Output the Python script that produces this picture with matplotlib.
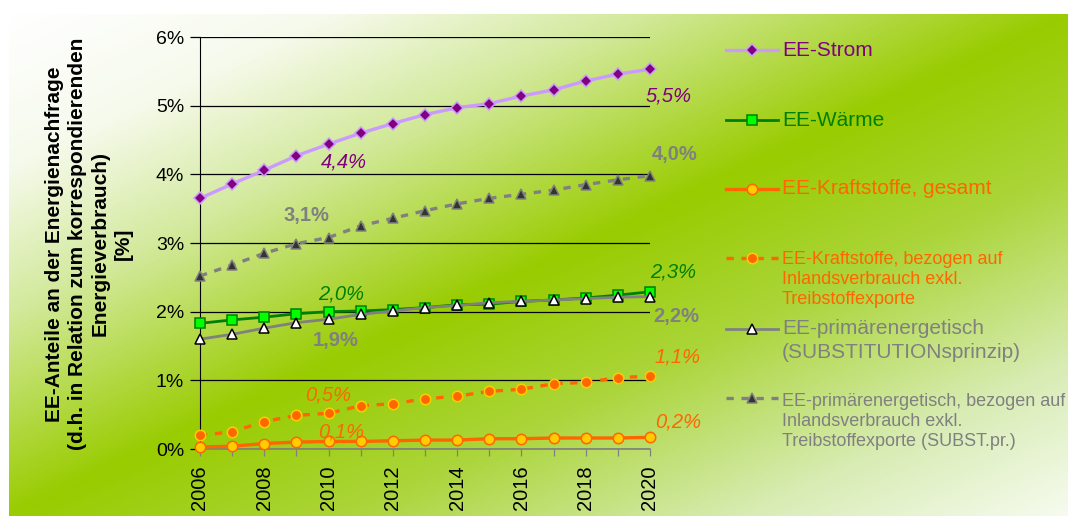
import matplotlib
matplotlib.use("Agg")
import matplotlib.pyplot as plt
import numpy as np
from matplotlib.colors import LinearSegmentedColormap

plt.rcParams["font.family"] = ["Liberation Sans", "DejaVu Sans"]

# ── Data ──────────────────────────────────────────────────────────────────────
years = list(range(2006, 2021))

ee_strom = [3.65, 3.86, 4.06, 4.27, 4.44, 4.60, 4.74, 4.87, 4.97, 5.03,
            5.14, 5.23, 5.36, 5.46, 5.53]
ee_waerme = [1.83, 1.88, 1.92, 1.97, 2.00, 2.01, 2.03, 2.06, 2.10, 2.11,
             2.15, 2.17, 2.20, 2.24, 2.29]
ee_kraft_ges = [0.03, 0.04, 0.08, 0.10, 0.11, 0.11, 0.12, 0.13, 0.13, 0.15,
                0.15, 0.16, 0.16, 0.16, 0.17]
ee_kraft_inl = [0.20, 0.25, 0.40, 0.49, 0.52, 0.63, 0.66, 0.73, 0.77, 0.84,
                0.87, 0.95, 0.97, 1.04, 1.06]
ee_primaer = [1.60, 1.67, 1.76, 1.84, 1.89, 1.96, 2.01, 2.06, 2.09, 2.13,
              2.15, 2.17, 2.19, 2.21, 2.22]
ee_primaer_inl = [2.52, 2.68, 2.85, 2.99, 3.08, 3.25, 3.36, 3.47, 3.57, 3.65,
                  3.71, 3.77, 3.85, 3.92, 3.98]

y_ticks = [0, 1, 2, 3, 4, 5, 6]
x_label_years = list(range(2006, 2021, 2))

labels = [
    "EE-Strom",
    "EE-Wärme",
    "EE-Kraftstoffe, gesamt",
    "EE-Kraftstoffe, bezogen auf\nInlandsverbrauch exkl.\nTreibstoffexporte",
    "EE-primärenergetisch\n(SUBSTITUTIONsprinzip)",
    "EE-primärenergetisch, bezogen auf\nInlandsverbrauch exkl.\nTreibstoffexporte (SUBST.pr.)",
]

# ── Styles ────────────────────────────────────────────────────────────────────
PURPLE = "#800080"
GREEN = "#008000"
ORANGE = "#ff6600"
GREY = "#808080"
DASH = (0, (2.2, 2.3))

series = [
    dict(y=ee_strom, color="#cc99ff", ls="-", lw=2.4, marker="D", ms=6,
         mfc=PURPLE, mec="#cc99ff", tc=PURPLE, z=5),
    dict(y=ee_waerme, color=GREEN, ls="-", lw=2.0, marker="s", ms=6.5,
         mfc="#00ff00", mec=GREEN, tc=GREEN, z=3),
    dict(y=ee_kraft_ges, color=ORANGE, ls="-", lw=2.4, marker="o", ms=7.5,
         mfc="#ffcc00", mec=ORANGE, tc=ORANGE, z=6),
    dict(y=ee_kraft_inl, color=ORANGE, ls=DASH, lw=2.4, marker="o", ms=7.5,
         mfc=ORANGE, mec="#ffcc00", tc=ORANGE, z=5),
    dict(y=ee_primaer, color=GREY, ls="-", lw=2.0, marker="^", ms=7,
         mfc="white", mec="black", tc=GREY, z=4),
    dict(y=ee_primaer_inl, color=GREY, ls=DASH, lw=2.4, marker="^", ms=7.5,
         mfc="#333333", mec=GREY, tc=GREY, z=4),
]

# value labels: (series index, year, offset in points, italic/bold)
value_labels = [
    (0, 2010, (11, -13), "italic"),
    (0, 2020, (13, -19), "italic"),
    (5, 2010, (-16, 16), "bold"),
    (5, 2020, (18, 15), "bold"),
    (1, 2010, (9, 13), "italic"),
    (1, 2020, (17, 14), "italic"),
    (4, 2010, (5, -15), "bold"),
    (4, 2020, (19, -14), "bold"),
    (3, 2010, (0, 13), "italic"),
    (3, 2020, (20, 14), "italic"),
    (2, 2010, (9, 7), "italic"),
    (2, 2020, (20, 11), "italic"),
]

W, H = 1068, 516
fig = plt.figure(figsize=(W / 100, H / 100), dpi=100)
fig.patch.set_facecolor("white")

# ── Gradient background ───────────────────────────────────────────────────────
bg = fig.add_axes([9 / W, 0, 1 - 9 / W, (H - 14) / H], zorder=-10)
cmap = LinearSegmentedColormap.from_list("bg", [
    (0.00, "#ffffff"), (0.15, "#f6faec"), (0.30, "#d2e99a"),
    (0.50, "#99cc00"), (0.66, "#abd53a"), (0.85, "#d8ecb4"),
    (1.00, "#f6fbee"),
])
gx, gy = np.meshgrid(np.linspace(0, 1, 400), np.linspace(0, 1, 200))
bg.imshow((gx + gy) / 2, cmap=cmap, vmin=0, vmax=1, aspect="auto",
          extent=(0, 1, 1, 0), interpolation="bilinear")
bg.set_xlim(0, 1)
bg.set_ylim(1, 0)
bg.axis("off")

# ── Main axes ─────────────────────────────────────────────────────────────────
ax = fig.add_axes([200 / W, (H - 449) / H, 450 / W, 412 / H])
ax.patch.set_alpha(0)

for s in series:
    ax.plot(years, s["y"], color=s["color"], linestyle=s["ls"], linewidth=s["lw"],
            marker=s["marker"], markersize=s["ms"], markerfacecolor=s["mfc"],
            markeredgecolor=s["mec"], markeredgewidth=1.1, zorder=s["z"],
            clip_on=False)

for idx, yr, off, style in value_labels:
    s = series[idx]
    v = s["y"][years.index(yr)]
    txt = f"{v:.1f}".replace(".", ",") + "%"
    ax.annotate(txt, (yr, v), xytext=off, textcoords="offset points",
                ha="center", va="center", fontsize=14.5, color=s["tc"],
                fontstyle="italic" if style == "italic" else "normal",
                fontweight="bold" if style == "bold" else "normal",
                zorder=7, annotation_clip=False)

ax.set_xlim(2006, 2020)
ax.set_ylim(0, 6)
ax.set_yticks(y_ticks)
ax.set_yticklabels([f"{t}%" for t in y_ticks])
ax.set_xticks(years)
ax.set_xticklabels([str(y) if y in x_label_years else "" for y in years],
                   rotation=90)
ax.grid(axis="y", color="black", linewidth=0.9)
ax.set_axisbelow(True)
ax.tick_params(axis="y", direction="out", length=7.5, width=0.9,
               color="black", pad=4, labelsize=14)
ax.tick_params(axis="x", direction="out", length=5, width=0.9,
               color=GREY, pad=7, labelsize=14.5)
for side in ("top", "right"):
    ax.spines[side].set_visible(False)
ax.spines["left"].set_color("black")
ax.spines["bottom"].set_color(GREY)
ax.spines["bottom"].set_linewidth(1.2)

fig.text(89 / W, 1 - 244 / H,
         "EE-Anteile an der Energienachfrage\n"
         "(d.h. in Relation zum korrespondierenden\n"
         "Energieverbrauch)\n[%]",
         rotation=90, ha="center", va="center", multialignment="center",
         fontsize=15, fontweight="bold", linespacing=1.25)

# ── Legend (manual, pixel coordinates) ───────────────────────────────────────
lg = fig.add_axes([0, 0, 1, 1], zorder=5)
lg.set_xlim(0, W)
lg.set_ylim(H, 0)
lg.axis("off")

entry_y = [50, 120, 189, 258, 329, 398]
text_dy = [0, 0, 0, 2, 0, 4]
entry_fs = [15, 15, 15, 13, 15, 13]
line_gap = [0, 0, 0, 20, 24, 19.5]
for s, label, ey, dy, fs, gap in zip(series, labels, entry_y, text_dy,
                                     entry_fs, line_gap):
    lg.plot([726, 752, 778], [ey, ey, ey], color=s["color"],
            linestyle=s["ls"], linewidth=s["lw"], marker=s["marker"],
            markevery=[1], markersize=s["ms"],
            markerfacecolor=s["mfc"], markeredgecolor=s["mec"],
            markeredgewidth=1.1)
    for i, line in enumerate(label.split("\n")):
        lg.text(782, ey + dy + i * gap, line, fontsize=fs, color=s["tc"],
                ha="left", va="center")

fig.savefig("out.png", dpi=100, facecolor=fig.get_facecolor())
